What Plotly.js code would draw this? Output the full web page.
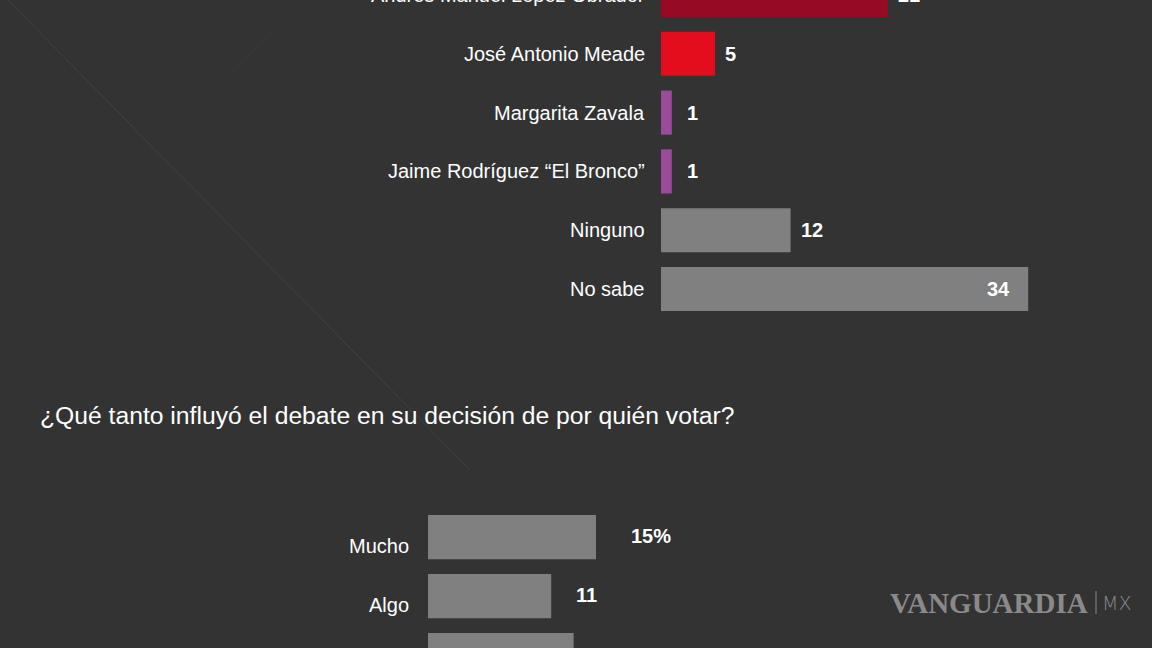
<!DOCTYPE html>
<html>
<head>
<meta charset="utf-8">
<script src="https://cdn.plot.ly/plotly-3.0.1.min.js"></script>
<style>
html,body{margin:0;padding:0;background:#333333;}
#chart{width:1152px;height:648px;}
</style>
</head>
<body>
<div id="chart"></div>
<script>
// Top chart: candidate preference
const candidates = ["Andrés Manuel López Obrador", "José Antonio Meade", "Margarita Zavala", "Jaime Rodríguez “El Bronco”", "Ninguno", "No sabe"];
const candidateValues = [21, 5, 1, 1, 12, 34];
const candidateColors = ["#960a23", "#e30d1e", "#9a4b9a", "#9a4b9a", "#808080", "#808080"];
const candidateLabels = ["21", "5", "1", "1", "12", "34"];

// Bottom chart: debate influence
const questionTitle = "¿Qué tanto influyó el debate en su decisión de por quién votar?";
const influence = ["Mucho", "Algo", "Poco"];
const influenceValues = [15, 11, 13];
const influenceLabels = ["15%", "11", "13"];

const FONT = "Liberation Sans, Arial, sans-serif";
const W = 1152, H = 648;

// top axis geometry (pixels)
const TOP_ROW0 = -5, TOP_STEP = 58.8;
const topRange = [335 / TOP_STEP, 5 / TOP_STEP];
function topRowPaperY(i, shift) { return 1 - (TOP_ROW0 + i * TOP_STEP + (shift || 0)) / H; }

const traces = [
  {
    type: "bar", orientation: "h",
    x: candidateValues, y: candidates,
    marker: {color: candidateColors},
    width: 0.75,
    xaxis: "x", yaxis: "y",
    hoverinfo: "none"
  },
  {
    type: "bar", orientation: "h",
    x: influenceValues, y: influence,
    marker: {color: "#808080"},
    width: 0.75,
    xaxis: "x2", yaxis: "y2",
    hoverinfo: "none"
  }
];

const annotations = [];
// faint watermark rows (drawn first, behind other texts)
const wmRows = [
  {x: 770, y: 40, t: "GRUPO REFORMA  GRUPO"},
  {x: 330, y: 452, t: "GRUPO REFORMA  GRUPO REFORMA  GRUPO REFORMA"},
  {x: 250, y: 482, t: "GRUPO REFORMA  GRUPO REFORMA  GRUPO REFORMA  GRUPO"},
  {x: 700, y: 512, t: "GRUPO REFORMA  GRUPO"},
  {x: 700, y: 542, t: "GRUPO REFORMA  GRUPO REFO"},
  {x: 700, y: 572, t: "GRUPO REFORMA  GRUPO"},
  {x: 640, y: 632, t: "GRUPO REFORMA  GRUPO REFOR"}
];
wmRows.forEach(r => {
  annotations.push({
    xref: "paper", yref: "paper", x: r.x / W, y: 1 - r.y / H,
    text: r.t, showarrow: false, xanchor: "left", yanchor: "middle",
    font: {family: "Liberation Serif, serif", size: 28, color: "rgba(255,255,255,0.025)", weight: "bold"}
  });
});

// category labels top
candidates.forEach((c, i) => {
  annotations.push({
    xref: "paper", yref: "paper", x: 647 / W, y: topRowPaperY(i, 0),
    text: c, showarrow: false, xanchor: "right", yanchor: "middle",
    font: {family: FONT, size: 20, color: "#ffffff"}
  });
});
// value labels top
candidateValues.forEach((v, i) => {
  const inside = i === candidateValues.length - 1;
  annotations.push({
    xref: "x", yref: "paper", x: v, y: topRowPaperY(i, 0),
    text: candidateLabels[i], showarrow: false,
    xanchor: inside ? "right" : "left", yanchor: "middle",
    xshift: inside ? -16 : (v < 3 ? 13 : 8),
    font: {family: FONT, size: 20, color: "#ffffff", weight: "bold"}
  });
});
// value labels bottom
influenceValues.forEach((v, i) => {
  annotations.push({
    xref: "x2", yref: "y2", x: v, y: influence[i],
    text: influenceLabels[i], showarrow: false,
    xanchor: "left", xshift: i === 0 ? 33 : 23, yshift: 1,
    font: {family: FONT, size: 20, color: "#ffffff", weight: "bold"}
  });
});
// category labels bottom (slightly lowered as in the reference)
influence.forEach((c, i) => {
  annotations.push({
    xref: "paper", yref: "y2", x: 411 / W, y: c,
    text: c, showarrow: false, xanchor: "right", yshift: -9,
    font: {family: FONT, size: 20, color: "#ffffff"}
  });
});
// question title
annotations.push({
  xref: "paper", yref: "paper", x: 38 / W, y: 1 - 415 / H,
  text: questionTitle, showarrow: false, xanchor: "left", yanchor: "middle",
  font: {family: FONT, size: 24.7, color: "#ffffff"}
});
// logo
annotations.push({
  xref: "paper", yref: "paper", x: 888 / W, y: 1 - 603 / H,
  text: "VANGUARDIA", showarrow: false, xanchor: "left", yanchor: "middle",
  font: {family: "Liberation Serif, serif", size: 29, color: "#8a8a8a", weight: "bold"}
});
annotations.push({
  xref: "paper", yref: "paper", x: 1100 / W, y: 1 - 603 / H,
  text: "MX", showarrow: false, xanchor: "left", yanchor: "middle",
  font: {family: "DejaVu Sans, sans-serif", size: 19, color: "#8a8a8a", weight: 200}
});

const layout = {
  width: W, height: H,
  margin: {l: 0, r: 0, t: 0, b: 0, pad: 0},
  paper_bgcolor: "#333333", plot_bgcolor: "rgba(0,0,0,0)",
  showlegend: false,
  xaxis: {domain: [661 / W, 1], range: [0, 491 / 10.8], visible: false},
  yaxis: {
    domain: [1 - 330 / H, 1], range: topRange,
    type: "category", anchor: "x",
    showgrid: false, zeroline: false, showline: false, showticklabels: false
  },
  xaxis2: {domain: [428 / W, 1], range: [0, 724 / 11.2], visible: false, anchor: "y2"},
  yaxis2: {
    domain: [0, 168 / H], range: [(648 - 537) / 59, (480 - 537) / 59],
    type: "category", anchor: "x2",
    showgrid: false, zeroline: false, showline: false, showticklabels: false
  },
  shapes: [
    {type: "line", xref: "paper", yref: "paper", x0: 0, y0: 1 + 8 / H, x1: 470 / W, y1: 1 - 470 / H,
     line: {color: "rgba(255,255,255,0.07)", width: 1}},
    {type: "line", xref: "paper", yref: "paper", x0: 300 / W, y0: 1, x1: 180 / W, y1: 1 - 130 / H,
     line: {color: "rgba(255,255,255,0.03)", width: 1}},
    {type: "line", xref: "paper", yref: "paper", x0: 1096 / W, y0: 1 - 591 / H, x1: 1096 / W, y1: 1 - 614 / H,
     line: {color: "#8a8a8a", width: 1}}
  ],
  annotations: annotations
};

Plotly.newPlot("chart", traces, layout, {displayModeBar: false, staticPlot: true});
</script>
</body>
</html>
